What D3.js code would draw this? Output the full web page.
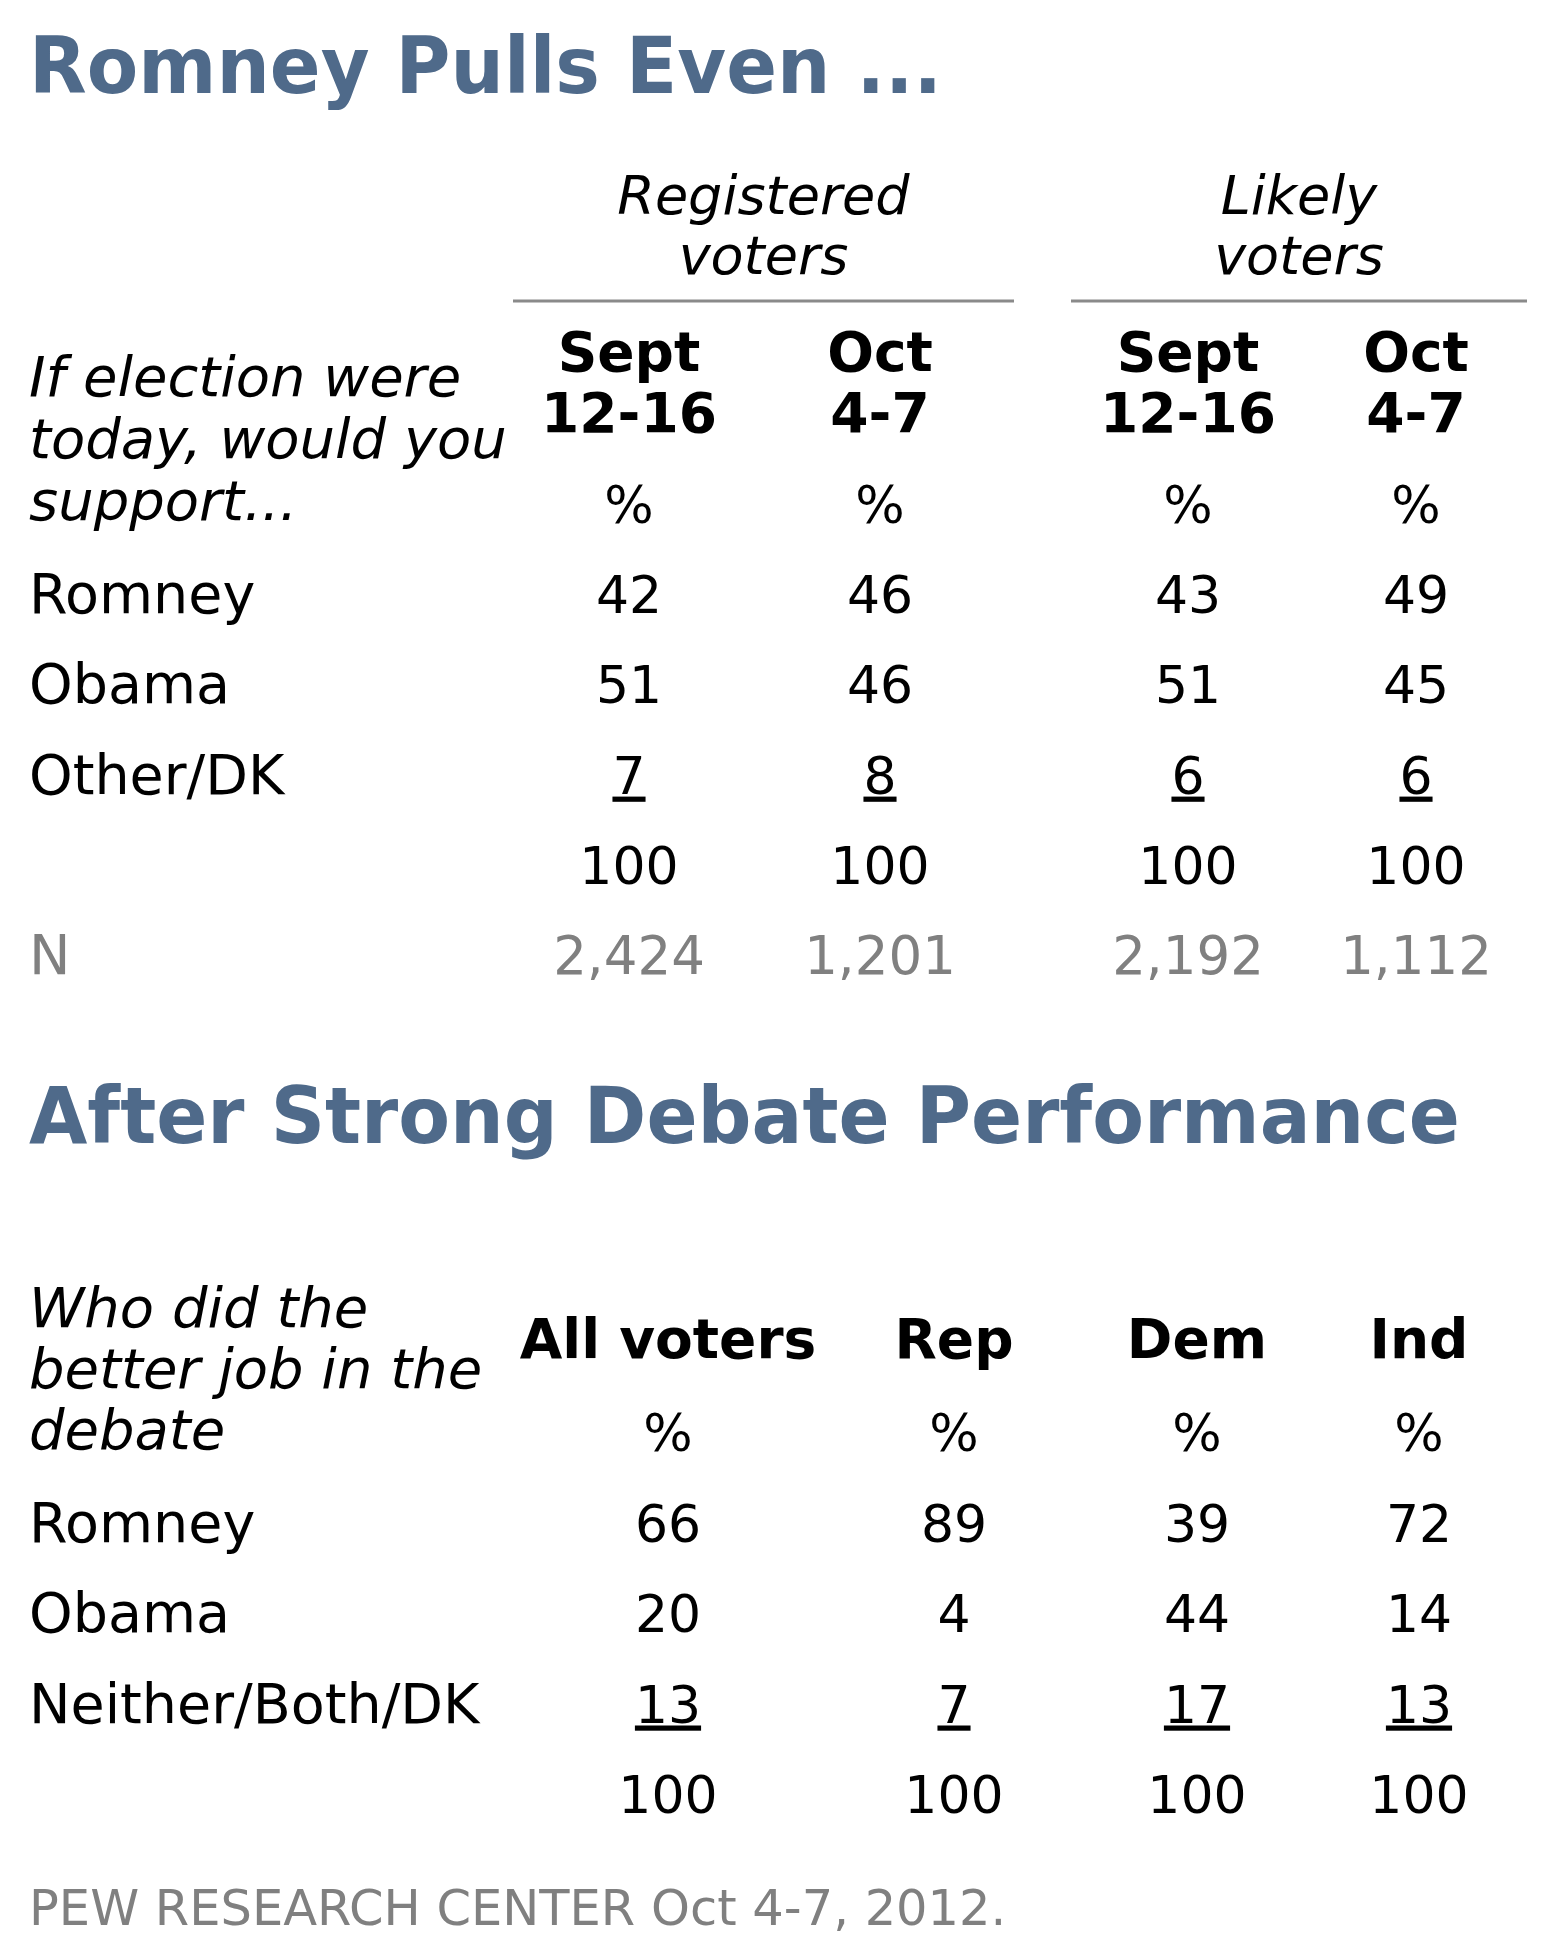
<!DOCTYPE html>
<html><head><meta charset="utf-8">
<script src="https://cdnjs.cloudflare.com/ajax/libs/d3/7.8.5/d3.min.js"></script>
<style>html,body{margin:0;padding:0;background:#fff;}</style>
</head><body>
<script>
// ---- data ----
const title1 = "Romney Pulls Even ...";
const title2 = "After Strong Debate Performance";
const groups1 = ["Registered\nvoters", "Likely\nvoters"];
const cols1 = ["Sept\n12-16", "Oct\n4-7", "Sept\n12-16", "Oct\n4-7"];
const question1 = ["If election were", "today, would you", "support..."];
const rows1 = ["Romney", "Obama", "Other/DK"];
const romney1 = [42, 46, 43, 49];
const obama1 = [51, 46, 51, 45];
const other1 = [7, 8, 6, 6];
const total1 = [100, 100, 100, 100];
const n1 = ["2,424", "1,201", "2,192", "1,112"];

const cols2 = ["All voters", "Rep", "Dem", "Ind"];
const question2 = ["Who did the", "better job in the", "debate"];
const rows2 = ["Romney", "Obama", "Neither/Both/DK"];
const romney2 = [66, 89, 39, 72];
const obama2 = [20, 4, 44, 14];
const neither2 = [13, 7, 17, 13];
const total2 = [100, 100, 100, 100];
const source = "PEW RESEARCH CENTER Oct 4-7, 2012.";

// ---- drawing ----
const W = 1561, H = 1953;
const FONT = "'DejaVu Sans', Verdana, sans-serif";
const svg = d3.select("body").append("svg").attr("width", W).attr("height", H)
  .style("font-family", FONT);

const titleColor = "#4f6a8a";
const gray = "#808080";
const LX = 29;
const fs = 52;     // numbers
const lfs = 55.5;  // row labels

function title(t, y, len) {
  svg.append("text").attr("x", LX).attr("y", y).text(t)
    .attr("font-size", 78).attr("font-weight", "bold").attr("fill", titleColor)
    .attr("textLength", len).attr("lengthAdjust", "spacingAndGlyphs");
}

function multiline(g, lines, x, y0, dy, attrs) {
  const t = g.append("text").attr("x", x).attr("y", y0);
  Object.entries(attrs).forEach(([k, v]) => t.attr(k, v));
  lines.forEach((l, i) => t.append("tspan").attr("x", x).attr("y", y0 + i * dy).text(l));
  return t;
}

// ---------- Table 1 ----------
title(title1, 93, 913);
const x1 = d3.scaleOrdinal().domain(d3.range(4)).range([629, 880, 1188, 1416]);
const gx1 = d3.scaleOrdinal().domain(d3.range(2)).range([[513, 1014], [1071, 1527]]);

groups1.forEach((g, i) => {
  const [a, b] = gx1(i);
  multiline(svg, g.split("\n"), (a + b) / 2, 214, 60,
    {"text-anchor": "middle", "font-size": 54, "font-style": "italic", "fill": "#000"});
  svg.append("line").attr("x1", a).attr("x2", b).attr("y1", 301).attr("y2", 301)
    .attr("stroke", "#8a8a8a").attr("stroke-width", 3);
});
cols1.forEach((c, i) => {
  multiline(svg, c.split("\n"), x1(i), 371, 61,
    {"text-anchor": "middle", "font-size": 55, "font-weight": "bold", "fill": "#000"});
});
multiline(svg, question1, LX, 396, 62,
  {"font-size": 56, "font-style": "italic", "fill": "#000"});

const rowKeys1 = ["pct", "r", "o", "d", "t", "n"];
const y1 = d3.scalePoint().domain(rowKeys1).range([523, 974]);
const table1 = {
  pct: ["%", "%", "%", "%"], r: romney1, o: obama1, d: other1, t: total1, n: n1
};
const labels1 = {r: rows1[0], o: rows1[1], d: rows1[2], n: "N"};

rowKeys1.forEach(k => {
  if (labels1[k]) {
    svg.append("text").attr("x", LX).attr("y", y1(k)).text(labels1[k])
      .attr("font-size", lfs).attr("fill", k === "n" ? gray : "#000");
  }
  table1[k].forEach((v, i) => {
    const t = svg.append("text").attr("x", x1(i)).attr("y", y1(k)).text(v)
      .attr("text-anchor", "middle").attr("font-size", k === "n" ? 53 : fs)
      .attr("fill", k === "n" ? gray : "#000");
    if (k === "d") t.attr("text-decoration", "underline");
  });
});

// ---------- Table 2 ----------
title(title2, 1143, 1431);
const x2 = d3.scaleOrdinal().domain(d3.range(4)).range([668, 954, 1197, 1419]);
multiline(svg, question2, LX, 1327, 61,
  {"font-size": 56, "font-style": "italic", "fill": "#000"});
cols2.forEach((c, i) => {
  svg.append("text").attr("x", x2(i)).attr("y", 1358).text(c)
    .attr("text-anchor", "middle").attr("font-size", 55).attr("font-weight", "bold");
});
const rowKeys2 = ["pct", "r", "o", "d", "t"];
const y2 = d3.scalePoint().domain(rowKeys2).range([1451, 1813]);
const table2 = {pct: ["%", "%", "%", "%"], r: romney2, o: obama2, d: neither2, t: total2};
const labels2 = {r: rows2[0], o: rows2[1], d: rows2[2]};
rowKeys2.forEach(k => {
  if (labels2[k]) {
    svg.append("text").attr("x", LX).attr("y", y2(k)).text(labels2[k])
      .attr("font-size", lfs).attr("fill", "#000");
  }
  table2[k].forEach((v, i) => {
    const t = svg.append("text").attr("x", x2(i)).attr("y", y2(k)).text(v)
      .attr("text-anchor", "middle").attr("font-size", fs).attr("fill", "#000");
    if (k === "d") t.attr("text-decoration", "underline");
  });
});

svg.append("text").attr("x", LX).attr("y", 1925).text(source)
  .attr("font-size", 49.5).attr("fill", gray);
</script>
</body></html>
